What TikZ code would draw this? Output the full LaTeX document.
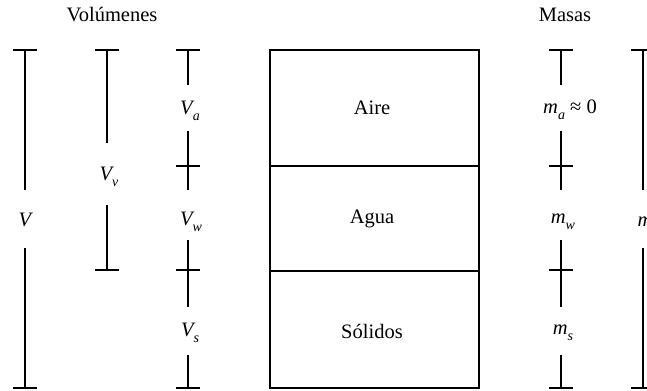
\documentclass[tikz,border=0pt]{standalone}
\usepackage{fontspec}
\setmainfont{Liberation Serif}
\usetikzlibrary{calc}
\newcommand\mysub[1]{\raisebox{-0.28em}{\fontsize{14bp}{14bp}\selectfont\itshape #1}}
\begin{document}
\begin{tikzpicture}[x=1bp,y=-1bp,
  bar/.style={line width=1.8bp,line cap=butt},
  lab/.style={inner sep=0pt,font=\fontsize{20.5bp}{24bp}\selectfont},
  boxline/.style={line width=1.8bp}]
\useasboundingbox (0,0) rectangle (647,390);
% titles
\node[lab] (tv) at (112,15) {Volúmenes};
\node[lab] (tm) at (565,15) {Masas};
% soil box
\draw[boxline] (270,50) coordinate (b1) rectangle (479,388) coordinate (b2);
\coordinate (l1) at (270,166); \coordinate (r1) at (479,166);
\coordinate (l2) at (270,271); \coordinate (r2) at (479,271);
\draw[boxline] (l1) -- (r1);
\draw[boxline] (l2) -- (r2);
\node[lab] (aire) at (372,108) {Aire};
\node[lab] (agua) at (372,219) {Agua};
\node[lab] (sol) at (372,331) {Sólidos};
% total volume V
\coordinate (Vt) at (25,50); \coordinate (Vb) at (25,388);
\coordinate (Vg1) at (25,190); \coordinate (Vg2) at (25,248);
\node[lab] (V) at (25,220) {\itshape V};
\draw[bar] (Vt) -- (Vg1) (Vg2) -- (Vb);
\draw[bar] (Vt) ++(-12,0) -- ++(24,0);
\draw[bar] (Vb) ++(-12,0) -- ++(24,0);
% voids Vv
\coordinate (Vvt) at (107,50); \coordinate (Vvb) at (107,270);
\coordinate (Vvg1) at (107,143); \coordinate (Vvg2) at (107,205);
\node[lab] (Vv) at (109,177) {\itshape V\mysub{v}};
\draw[bar] (Vvt) -- (Vvg1) (Vvg2) -- (Vvb);
\draw[bar] (Vvt) ++(-12,0) -- ++(24,0);
\draw[bar] (Vvb) ++(-12,0) -- ++(24,0);
% phase volumes
\coordinate (ct) at (188,50); \coordinate (c1) at (188,166);
\coordinate (c2) at (188,270); \coordinate (cb) at (188,388);
\node[lab] (Va) at (190,111) {\itshape V\mysub{a}};
\node[lab] (Vw) at (191,222) {\itshape V\mysub{w}};
\node[lab] (Vs) at (190,333) {\itshape V\mysub{s}};
\draw[bar] (ct) -- (188,85) (188,131) -- (188,190)
           (188,240) -- (188,307) (188,355) -- (cb);
\draw[bar] (ct) ++(-12,0) -- ++(24,0);
\draw[bar] (c1) ++(-12,0) -- ++(24,0);
\draw[bar] (c2) ++(-12,0) -- ++(24,0);
\draw[bar] (cb) ++(-12,0) -- ++(24,0);
% phase masses
\coordinate (mt) at (561,50); \coordinate (m1) at (561,166);
\coordinate (m2) at (561,270); \coordinate (mb) at (561,388);
\node[lab] (ma) at (570,110) {\itshape m\mysub{a}\upshape\ ≈ 0};
\node[lab] (mw) at (563,222) {\itshape m\mysub{w}};
\node[lab] (ms) at (563,333) {\itshape m\mysub{s}};
\draw[bar] (mt) -- (561,85) (561,131) -- (561,190)
           (561,240) -- (561,307) (561,355) -- (mb);
\draw[bar] (mt) ++(-12,0) -- ++(24,0);
\draw[bar] (m1) ++(-12,0) -- ++(24,0);
\draw[bar] (m2) ++(-12,0) -- ++(24,0);
\draw[bar] (mb) ++(-12,0) -- ++(24,0);
% total mass
\coordinate (Mt) at (643,50); \coordinate (Mb) at (643,388);
\node[lab] (M) at (645,222) {\itshape m};
\draw[bar] (Mt) -- (643,190) (643,248) -- (Mb);
\draw[bar] (Mt) ++(-12,0) -- ++(24,0);
\draw[bar] (Mb) ++(-12,0) -- ++(24,0);
\end{tikzpicture}
\end{document}
